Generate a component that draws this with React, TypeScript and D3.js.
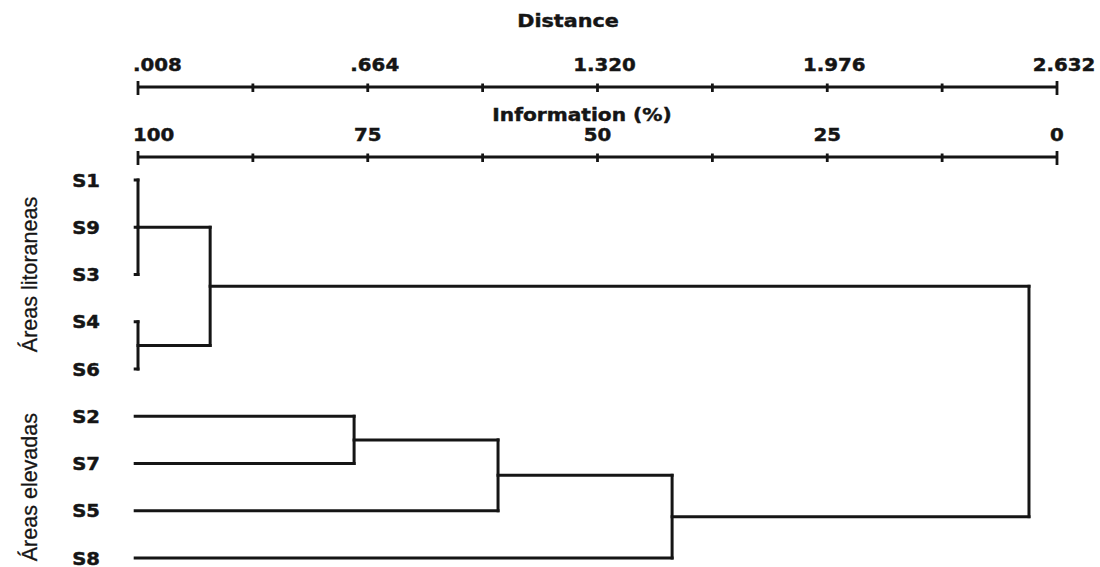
import * as d3 from "d3";

// leaves, top to bottom
const leafNames = ["S1", "S9", "S3", "S4", "S6", "S2", "S7", "S5", "S8"];

// fusions: [node, children, distance]
const merges: [string, string[], number][] = [
  ["A", ["S1", "S9", "S3"], 0.008],
  ["B", ["S4", "S6"], 0.008],
  ["C", ["A", "B"], 0.214],
  ["D", ["S2", "S7"], 0.625],
  ["E", ["D", "S5"], 1.036],
  ["F", ["E", "S8"], 1.533],
  ["root", ["C", "F"], 2.552],
];

const distTicks = [0.008, 0.664, 1.32, 1.976, 2.632];
const distLabels = [".008", ".664", "1.320", "1.976", "2.632"];
const infoTicks = [100, 75, 50, 25, 0];

const groupNames = ["Áreas litoraneas", "Áreas elevadas"];
const groupMembers = [
  ["S1", "S9", "S3", "S4", "S6"],
  ["S2", "S7", "S5", "S8"],
];

type N = { name: string; dist: number; children?: N[] };

const build = (name: string): N => {
  const m = merges.find((d) => d[0] === name);
  if (!m) return { name, dist: 0 };
  return { name, dist: m[2], children: m[1].map(build) };
};

const INK = "#151515";
const boldFont = "'DejaVu Sans', Verdana, sans-serif";

export default function App() {
  const W = 1100, H = 567;
  const x = d3.scaleLinear().domain([0.008, 2.632]).range([138, 1057]);
  const xInfo = d3.scaleLinear().domain([100, 0]).range([138, 1057]);
  const y = d3.scalePoint().domain(leafNames).range([180, 558]);

  const root = d3.hierarchy(build("root"));
  // y of a node = mean of its children (cluster style)
  root.eachAfter((n: any) => {
    n.py = n.children ? d3.mean(n.children, (c: any) => c.py) : y(n.data.name);
  });

  const links: { x1: number; y1: number; x2: number; y2: number }[] = [];
  root.each((n: any) => {
    if (!n.children) return;
    const xn = x(n.data.dist);
    const ys = n.children.map((c: any) => c.py);
    links.push({ x1: xn, y1: d3.min(ys)!, x2: xn, y2: d3.max(ys)! });
    n.children.forEach((c: any) => {
      links.push({ x1: x(c.data.dist), y1: c.py, x2: xn, y2: c.py });
    });
  });

  const minorD = distTicks.slice(1).map((v, i) => (v + distTicks[i]) / 2);
  const minorI = infoTicks.slice(1).map((v, i) => (v + infoTicks[i]) / 2);

  const boldText = {
    fontFamily: boldFont,
    fontWeight: "bold" as const,
    fill: INK,
    stroke: INK,
    strokeWidth: 0.45,
  };

  const axis = (
    yy: number,
    scale: d3.ScaleLinear<number, number>,
    major: number[],
    minor: number[],
    labels: string[],
    labelDx: number
  ) => (
    <g>
      <line x1={scale.range()[0]} x2={scale.range()[1]} y1={yy} y2={yy} stroke={INK} strokeWidth={3} />
      {major.map((v, i) => {
        const end = i === 0 || i === major.length - 1;
        return (
          <line key={"M" + i} x1={scale(v)} x2={scale(v)} y1={yy - (end ? 6 : 3.5)} y2={yy + (end ? 8 : 5)} stroke={INK} strokeWidth={2.8} />
        );
      })}
      {minor.map((v, i) => (
        <line key={"m" + i} x1={scale(v)} x2={scale(v)} y1={yy - 3.5} y2={yy + 5} stroke={INK} strokeWidth={2.8} />
      ))}
      {major.map((v, i) => {
        const first = i === 0;
        const tx = first ? scale(v) - 5 : scale(v) + labelDx;
        return (
          <text
            key={"t" + i}
            transform={`translate(${tx},${yy - 16}) scale(1.1,1)`}
            textAnchor={first ? "start" : "middle"}
            fontSize={18}
            {...boldText}
          >
            {labels[i]}
          </text>
        );
      })}
    </g>
  );

  return (
    <svg width={W} height={H} style={{ position: "absolute", left: 0, top: 0, background: "#fff" }}>
      <rect width={W} height={H} fill="#fff" />
      <text transform="translate(568,27) scale(1.15,1)" textAnchor="middle" fontSize={18} {...boldText}>
        Distance
      </text>
      {axis(87, x, distTicks, minorD, distLabels, 7)}
      <text transform="translate(582,121) scale(1.12,1)" textAnchor="middle" fontSize={18} {...boldText}>
        Information (%)
      </text>
      {axis(157, xInfo, infoTicks, minorI, infoTicks.map(String), 0)}

      {links.map((l, i) => (
        <line key={i} x1={l.x1} y1={l.y1} x2={l.x2} y2={l.y2} stroke={INK} strokeWidth={3} strokeLinecap="square" />
      ))}

      {leafNames.map((s) => (
        <text
          key={s}
          transform={`translate(100,${(y(s) as number) + 6.5}) scale(1.12,1)`}
          textAnchor="end"
          fontSize={17.5}
          {...boldText}
        >
          {s}
        </text>
      ))}

      {groupNames.map((g, i) => {
        const ys = groupMembers[i].map((s) => y(s) as number);
        const cy = (d3.min(ys)! + d3.max(ys)!) / 2;
        return (
          <text
            key={g}
            transform={`translate(37,${cy}) rotate(-90)`}
            textAnchor="middle"
            fontFamily="'Liberation Sans', Arial, sans-serif"
            fontSize={21.5}
            fill={INK}
            stroke={INK}
            strokeWidth={0.3}
          >
            {g}
          </text>
        );
      })}
    </svg>
  );
}
